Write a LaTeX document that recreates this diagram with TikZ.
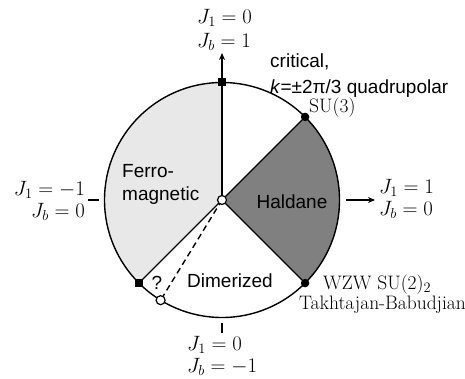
\documentclass[tikz,border=0pt]{standalone}
\usepackage{fontspec}
\setsansfont{Liberation Sans}
\usetikzlibrary{arrows.meta}
\definecolor{ferrogray}{gray}{0.91}
\definecolor{haldgray}{gray}{0.5}
\begin{document}
\begin{tikzpicture}[x=1pt,y=1pt,
  bd/.style={line width=1.4pt},
  sq/.style={fill=black, minimum size=8pt, inner sep=0pt},
  bdot/.style={circle, fill=black, minimum size=8.5pt, inner sep=0pt},
  odot/.style={circle, draw=black, fill=white, line width=1.2pt, minimum size=9pt, inner sep=0pt},
  sf/.style={font=\fontsize{19}{23}\selectfont\sffamily, inner sep=0pt},
  mtwide/.style={font=\fontsize{22}{24}\selectfont, inner sep=0pt},
  mtnarrow/.style={font=\fontsize{22}{22}\selectfont, inner sep=0pt},
  rm/.style={font=\fontsize{19.5}{22}\selectfont, inner sep=0pt},
  arr/.style={line width=1.4pt, -{Stealth[length=7pt,width=6pt]}}
]
\useasboundingbox (0,0) rectangle (465,378);
\def\R{117.5pt}
\coordinate (C) at (222,178);
\path (C) ++(90:\R) coordinate (Tp);
\path (C) ++(45:\R) coordinate (Sp);
\path (C) ++(-45:\R) coordinate (Wp);
\path (C) ++(225:\R) coordinate (Lp);
\path (C) ++(238.5:\R) coordinate (Qp);
% regions
\fill[ferrogray] (C) -- (Tp) arc[start angle=90,end angle=225,radius=\R] -- cycle;
\fill[haldgray] (C) -- (Wp) arc[start angle=-45,end angle=45,radius=\R] -- cycle;
\draw[bd] (C) circle[radius=\R];
% boundaries
\draw[bd] (C) -- (Tp);
\draw[bd] (C) -- (Sp);
\draw[bd] (C) -- (Wp);
\draw[bd] (C) -- (Lp);
\draw[bd, dash pattern=on 6pt off 4pt] (C) -- (Qp);
% markers
\node[sq] (T) at (Tp) {};
\node[bdot] (S) at (Sp) {};
\node[bdot] (W) at (Wp) {};
\node[sq] (L) at (Lp) {};
\node[odot] (Q) at (Qp) {};
\node[odot] (O) at (C) {};
% arrows and ticks
\coordinate (topend) at (222,325);
\draw[arr] (T.north) -- (topend);
\coordinate (rstart) at (346,178);
\coordinate (rend) at (375,178);
\draw[arr] (rstart) -- (rend);
\coordinate (lt1) at (88,178);
\coordinate (lt2) at (99,178);
\draw[bd] (lt1) -- (lt2);
\coordinate (bt1) at (222,55);
\coordinate (bt2) at (222,45);
\draw[line width=1.1pt] (bt1) -- (bt2);
% axis labels
\node[mtwide, anchor=west, align=left] (toplab) at (197,348) {$J_1=0$\\$J_b=1$};
\node[mtnarrow, anchor=east, align=right] (leftlab) at (85,177) {$J_1=-1$\\$J_b=0$};
\node[mtnarrow, anchor=west, align=left] (rightlab) at (379,179) {$J_1=1$\\$J_b=0$};
\node[mtnarrow, anchor=west, align=left] (botlab) at (187,22) {$J_1=0$\\$J_b=-1$};
% text labels
\node[sf, anchor=base west] (crit1) at (270,310) {critical,};
\node[sf, anchor=base west] (crit2) at (270,284) {\textit{k}=±2π/3 quadrupolar};
\node[rm, anchor=base west] (su3) at (309,265) {SU(3)};
\node[rm, anchor=base west] (wzw) at (323,89) {WZW SU(2)$_2$};
\node[rm, anchor=base west] (tb) at (299,68.5) {Takhtajan-Babudjian};
\node[sf, anchor=base west] (ferro1) at (122,201) {Ferro-};
\node[sf, anchor=base west] (ferro2) at (122,178) {magnetic};
\node[sf, anchor=base] (hald) at (292,170) {Haldane};
\node[sf, anchor=base west] (dim) at (187,91) {Dimerized};
\node[sf, anchor=base] (qm) at (157,89) {?};
\end{tikzpicture}
\end{document}
